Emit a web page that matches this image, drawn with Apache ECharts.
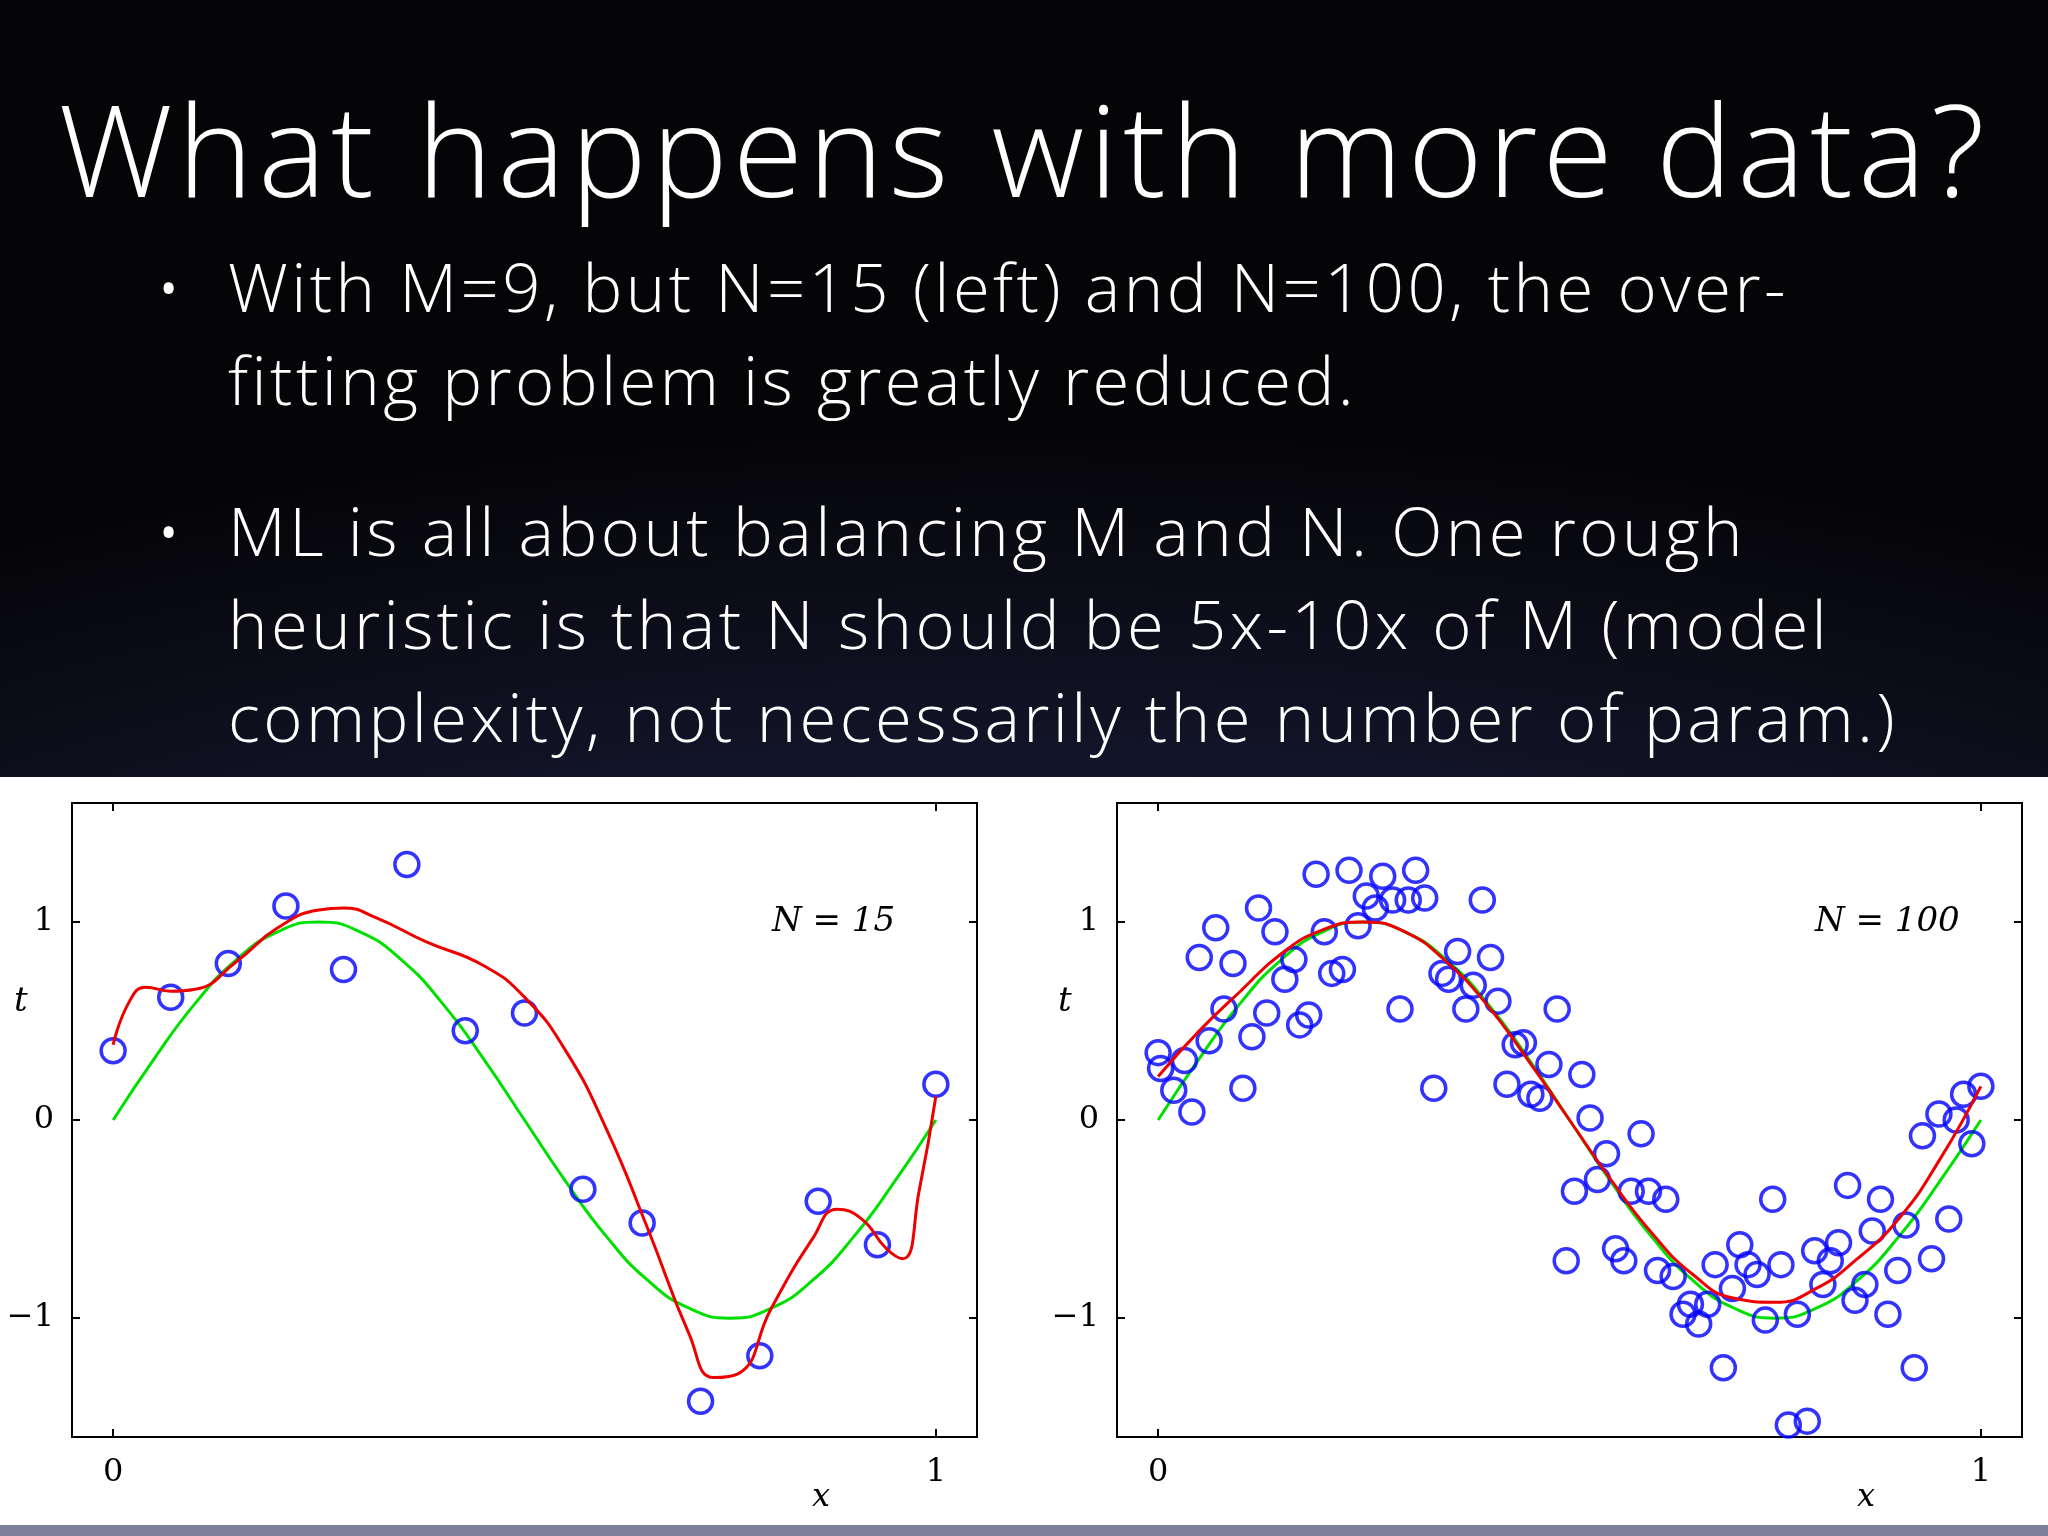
<!DOCTYPE html>
<html><head><meta charset="utf-8">
<script src="https://cdn.jsdelivr.net/npm/echarts@6/dist/echarts.min.js"></script>
<style>
html,body{margin:0;padding:0;width:2048px;height:1536px;overflow:hidden;font-family:"Open Sans","Liberation Sans",sans-serif;}
#bg{position:absolute;left:0;top:0;width:2048px;height:1536px;background:radial-gradient(ellipse 140% 90% at 50% 100%,#2a3060 0%,#191c38 45%,#050508 80%);}
#white{position:absolute;left:0;top:777px;width:2048px;height:748px;background:#fff;}
#strip{position:absolute;left:0;top:1525px;width:2048px;height:11px;background:#7e7f9a;}
#title{position:absolute;left:0;width:2048px;top:60px;text-align:center;color:#fff;font-size:128px;font-weight:300;letter-spacing:5px;}
.b{position:absolute;left:228px;color:#fff;font-size:67px;font-weight:300;line-height:93px;letter-spacing:3.4px;}
.b:before{content:"•";position:absolute;left:-72px;}
#chart{position:absolute;left:0;top:0;width:2048px;height:1536px;}
</style></head><body>
<div id="bg"></div><div id="white"></div><div id="strip"></div>
<div id="title">What happens with more data?</div>
<div class="b" style="top:240px">With M=9, but N=15 (left) and N=100, the over-<br>fitting problem is greatly reduced.</div>
<div class="b" style="top:484px">ML is all about balancing M and N. One rough<br>heuristic is that N should be 5x-10x of M (model<br>complexity, not necessarily the number of param.)</div>
<div id="chart"></div>
<script>
const pts15 = [[0,0.35],[0.07,0.62],[0.14,0.79],[0.21,1.08],[0.28,0.76],[0.357,1.29],[0.428,0.45],[0.5,0.54],[0.571,-0.35],[0.643,-0.52],[0.714,-1.42],[0.786,-1.19],[0.857,-0.41],[0.929,-0.63],[1,0.18]];
const fit15 = [[0,0.38],[0.02,0.6],[0.04,0.67],[0.07,0.65],[0.1,0.66],[0.15,0.8],[0.2,0.97],[0.25,1.06],[0.28,1.07],[0.32,1.02],[0.38,0.9],[0.45,0.78],[0.5,0.62],[0.55,0.35],[0.6,-0.05],[0.65,-0.55],[0.7,-1.08],[0.73,-1.3],[0.76,-1.28],[0.8,-0.95],[0.85,-0.6],[0.88,-0.45],[0.91,-0.5],[0.94,-0.65],[0.96,-0.7],[0.98,-0.35],[1,0.12]];
const truth = [[0,0],[0.05,0.31],[0.1,0.59],[0.15,0.81],[0.2,0.95],[0.25,1],[0.3,0.95],[0.35,0.81],[0.4,0.59],[0.45,0.31],[0.5,0],[0.55,-0.31],[0.6,-0.59],[0.65,-0.81],[0.7,-0.95],[0.75,-1],[0.8,-0.95],[0.85,-0.81],[0.9,-0.59],[0.95,-0.31],[1,0]];
const fit100 = [[0,0.22],[0.05,0.45],[0.1,0.65],[0.15,0.84],[0.2,0.96],[0.25,1.0],[0.3,0.95],[0.35,0.8],[0.4,0.58],[0.45,0.3],[0.5,0.0],[0.55,-0.3],[0.6,-0.57],[0.65,-0.78],[0.7,-0.9],[0.75,-0.92],[0.8,-0.85],[0.85,-0.7],[0.9,-0.5],[0.95,-0.2],[1,0.17]];
const pts100 = [[0,0.34],[0.003,0.26],[0.019,0.15],[0.032,0.3],[0.041,0.04],[0.062,0.4],[0.07,0.97],[0.05,0.82],[0.08,0.56],[0.091,0.79],[0.103,0.16],[0.114,0.42],[0.122,1.07],[0.132,0.54],[0.142,0.95],[0.154,0.71],[0.165,0.81],[0.172,0.48],[0.183,0.53],[0.192,1.24],[0.202,0.95],[0.211,0.74],[0.224,0.76],[0.232,1.26],[0.243,0.98],[0.253,1.13],[0.264,1.07],[0.273,1.23],[0.285,1.11],[0.294,0.56],[0.304,1.11],[0.313,1.26],[0.324,1.12],[0.335,0.16],[0.345,0.74],[0.353,0.71],[0.364,0.85],[0.374,0.56],[0.383,0.68],[0.394,1.11],[0.404,0.82],[0.413,0.6],[0.424,0.18],[0.434,0.38],[0.444,0.39],[0.453,0.13],[0.464,0.11],[0.475,0.28],[0.485,0.56],[0.496,-0.71],[0.506,-0.36],[0.515,0.23],[0.525,0.01],[0.534,-0.3],[0.545,-0.17],[0.556,-0.65],[0.566,-0.71],[0.575,-0.36],[0.587,-0.07],[0.596,-0.36],[0.607,-0.76],[0.617,-0.4],[0.626,-0.79],[0.638,-0.98],[0.647,-0.93],[0.657,-1.03],[0.668,-0.93],[0.677,-0.73],[0.687,-1.25],[0.698,-0.85],[0.707,-0.63],[0.717,-0.73],[0.728,-0.78],[0.738,-1.01],[0.747,-0.4],[0.757,-0.73],[0.766,-1.54],[0.777,-0.98],[0.789,-1.52],[0.798,-0.66],[0.808,-0.83],[0.817,-0.71],[0.827,-0.62],[0.838,-0.33],[0.847,-0.91],[0.859,-0.83],[0.868,-0.56],[0.878,-0.4],[0.887,-0.98],[0.899,-0.76],[0.909,-0.53],[0.919,-1.25],[0.929,-0.08],[0.94,-0.7],[0.949,0.03],[0.961,-0.5],[0.97,0.0],[0.979,0.13],[0.989,-0.12],[1,0.17]];
const xTicks = [0,1];
const yTicks = [-1,0,1];
const yTickLabels = ['\u22121','0','1'];

const serif = '"DejaVu Serif","Liberation Serif",serif';
function xa(g,pos,lab){return {gridIndex:g,type:'value',min:-0.05,max:1.05,position:pos,
  axisLine:{show:false,onZero:false},splitLine:{show:false},
  axisTick:{inside:true,length:8,customValues:xTicks,lineStyle:{color:'#000',width:2}},
  axisLabel:{show:lab,customValues:xTicks,margin:20,fontFamily:serif,fontSize:32,color:'#000'}};}
function ya(g,pos,lab){return {gridIndex:g,type:'value',min:-1.6,max:1.6,position:pos,
  axisLine:{show:false,onZero:false},splitLine:{show:false},
  axisTick:{inside:true,length:8,customValues:yTicks,lineStyle:{color:'#000',width:2}},
  axisLabel:{show:lab,customValues:yTicks,margin:18,fontFamily:serif,fontSize:32,color:'#000',
    formatter:v=>yTickLabels[yTicks.indexOf(Math.round(v))]}};}
const circ = {type:'scatter',symbol:'circle',symbolSize:24,itemStyle:{color:'rgba(0,0,0,0)',borderColor:'#0000ff',borderWidth:3.5},z:3};
const line = (c)=>({type:'line',smooth:true,showSymbol:false,lineStyle:{color:c,width:3}});
const chart = echarts.init(document.getElementById('chart'));
chart.setOption({
  animation:false,
  grid:[{left:72,top:803,width:905,height:634,show:true,borderColor:'#000',borderWidth:2},
        {left:1117,top:803,width:905,height:634,show:true,borderColor:'#000',borderWidth:2}],
  xAxis:[xa(0,'bottom',true),xa(0,'top',false),xa(1,'bottom',true),xa(1,'top',false)],
  yAxis:[ya(0,'left',true),ya(0,'right',false),ya(1,'left',true),ya(1,'right',false)],
  series:[
    Object.assign(line('#00e000'),{xAxisIndex:0,yAxisIndex:0,data:truth}),
    Object.assign(line('#ee0000'),{xAxisIndex:0,yAxisIndex:0,data:fit15,z:4}),
    Object.assign({},circ,{xAxisIndex:0,yAxisIndex:0,data:pts15}),
    Object.assign(line('#00e000'),{xAxisIndex:2,yAxisIndex:2,data:truth}),
    Object.assign(line('#ee0000'),{xAxisIndex:2,yAxisIndex:2,data:fit100,z:4}),
    Object.assign({},circ,{xAxisIndex:2,yAxisIndex:2,data:pts100})
  ],
  graphic:[
    {type:'text',left:14,top:985,style:{text:'t',font:'italic 34px '+serif,fill:'#000'}},
    {type:'text',left:1058,top:985,style:{text:'t',font:'italic 34px '+serif,fill:'#000'}},
    {type:'text',left:812,top:1482,style:{text:'x',font:'italic 32px '+serif,fill:'#000'}},
    {type:'text',left:1857,top:1482,style:{text:'x',font:'italic 32px '+serif,fill:'#000'}},
    {type:'text',left:772,top:905,style:{text:'N = 15',font:'italic 34px '+serif,fill:'#000'}},
    {type:'text',left:1815,top:905,style:{text:'N = 100',font:'italic 34px '+serif,fill:'#000'}}
  ]
});
</script></body></html>
